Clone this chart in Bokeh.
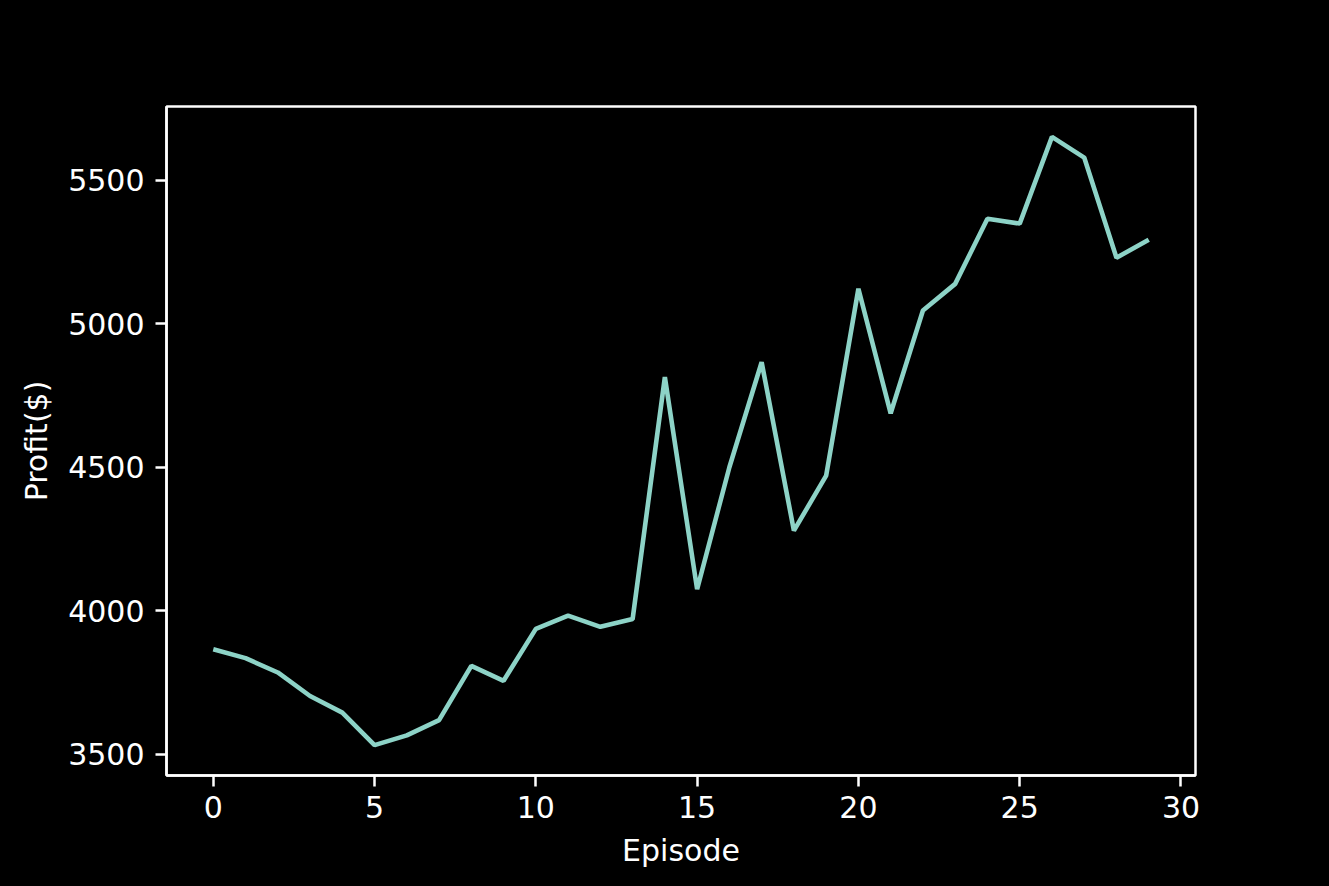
from bokeh.plotting import figure
from bokeh.models import Range1d, FixedTicker
from bokeh.embed import file_html
from bokeh.resources import INLINE

episodes = list(range(30))
profit = [3866, 3835, 3785, 3703, 3645, 3532, 3566, 3619, 3808, 3756,
          3937, 3983, 3944, 3971, 4814, 4075, 4500, 4866, 4279, 4471,
          5122, 4688, 5046, 5139, 5366, 5349, 5651, 5579, 5230, 5293]
x_ticks = [0, 5, 10, 15, 20, 25, 30]
y_ticks = [3500, 4000, 4500, 5000, 5500]

LINE_COLOR = "#8dd3c7"
FONT = "DejaVu Sans"

xpad = (max(episodes) - min(episodes)) * 0.05
ypad = (max(profit) - min(profit)) * 0.05

p = figure(width=1329, height=886, frame_width=1029, frame_height=669,
           min_border_left=166, min_border_right=134,
           min_border_top=106, min_border_bottom=111,
           output_backend="svg", toolbar_location=None,
           x_range=Range1d(min(episodes) - xpad, max(episodes) + xpad),
           y_range=Range1d(min(profit) - ypad, max(profit) + ypad))

p.background_fill_color = "black"
p.border_fill_color = "black"
p.outline_line_color = "white"
p.outline_line_width = 2.5
p.xgrid.visible = False
p.ygrid.visible = False

p.line(episodes, profit, line_color=LINE_COLOR, line_width=4.6)

p.xaxis.ticker = FixedTicker(ticks=x_ticks)
p.yaxis.ticker = FixedTicker(ticks=y_ticks)
p.xaxis.axis_label = "Episode"
p.yaxis.axis_label = "Profit($)"

for ax in (p.xaxis, p.yaxis):
    ax.axis_line_color = "white"
    ax.axis_line_width = 2.5
    ax.major_tick_line_color = "white"
    ax.major_tick_line_width = 2.5
    ax.major_tick_out = 11
    ax.major_tick_in = 0
    ax.minor_tick_line_color = None
    ax.major_label_text_color = "white"
    ax.major_label_text_font = FONT
    ax.major_label_text_font_size = "30px"
    ax.axis_label_text_color = "white"
    ax.axis_label_text_font = FONT
    ax.axis_label_text_font_size = "30px"
    ax.axis_label_text_font_style = "normal"

p.xaxis.major_label_standoff = 9
p.yaxis.major_label_standoff = 11
p.xaxis.axis_label_standoff = 12
p.yaxis.axis_label_standoff = 11

html = file_html(p, INLINE)
html = html.replace("<head>", "<head><style>html, body {margin:0; padding:0; background:#000;}</style>", 1)
open("out.html", "w").write(html)
